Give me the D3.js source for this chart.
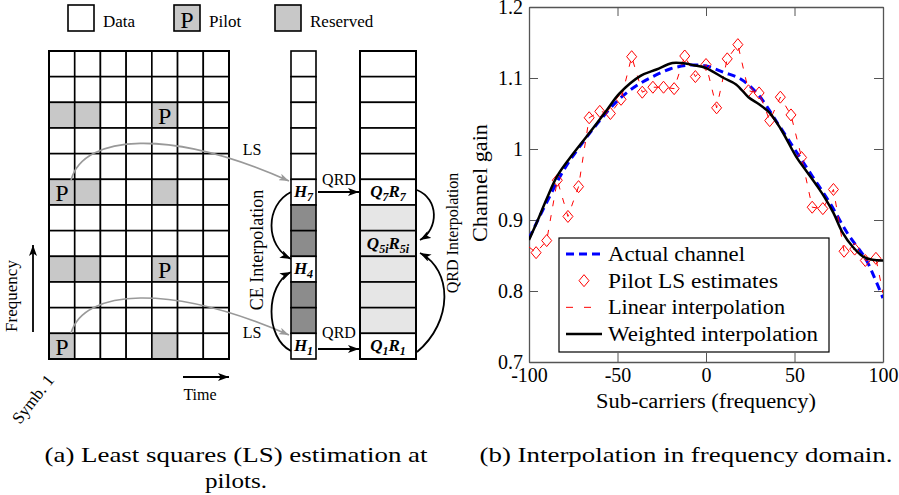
<!DOCTYPE html>
<html>
<head>
<meta charset="utf-8">
<script src="https://cdn.jsdelivr.net/npm/d3@7"></script>
<style>
body{margin:0;background:#fff}
</style>
</head>
<body>
<div id="app"></div>
<script>
// ---------- panel (a): resource grid ----------
var gridCols = 7, gridRows = 12
var pilotCells = [[2,4],[5,0],[8,4],[11,0]]              // [row, col]
var reservedCells = [[2,0],[2,1],[5,1],[5,4],[8,0],[8,1],[11,4]]
var hDarkRows = [6,7,9,10]
var hLabels = {5:[["H","7"]], 8:[["H","4"]], 11:[["H","1"]]}
var qGreyRows = [6,7,8,9,10]
var qLabels = {5:[["Q","7"],["R","7"]], 7:[["Q","5i"],["R","5i"]], 11:[["Q","1"],["R","1"]]}
var legendItems = ["Data","Pilot","Reserved"]

// ---------- panel (b): channel gain ----------
var actualX = [-100,-90,-80,-70,-60,-50,-40,-30,-20,-10,0,10,20,30,40,50,60,70,80,90,95,100]
var actualY = [0.874,0.925,0.972,1.008,1.040,1.068,1.088,1.102,1.113,1.118,1.117,1.108,1.098,1.075,1.038,1.000,0.962,0.924,0.881,0.846,0.820,0.790]

var pilotX = [-96,-90,-84,-78,-72,-66,-60,-54,-48,-42,-36,-30,-24,-18,-12,-6,0,6,12,18,24,30,36,42,48,54,60,66,72,78,84,90,96]
var pilotY = [0.854,0.871,0.956,0.905,0.947,1.044,1.053,1.050,1.070,1.130,1.080,1.087,1.087,1.085,1.131,1.102,1.119,1.058,1.127,1.147,1.082,1.079,1.040,1.073,1.048,0.988,0.918,0.916,0.943,0.856,0.859,0.843,0.846]
var linearEdgeX = [-100, 100]
var linearEdgeY = [0.862, 0.797]

var weightedX = [-100,-95,-90,-84,-77,-67,-56,-49,-37,-28,-19,-14,-7,0,10,17,24,30,36,43,51,57,63,67,72,77,83,89,94,100]
var weightedY = [0.872,0.900,0.930,0.962,0.987,1.019,1.055,1.078,1.103,1.112,1.121,1.121,1.118,1.114,1.100,1.091,1.073,1.063,1.051,1.025,0.989,0.968,0.947,0.932,0.910,0.883,0.862,0.848,0.844,0.843]

var xTicks = [-100,-50,0,50,100]
var yTicks = [0.7,0.8,0.9,1,1.1,1.2]
var seriesNames = ["Actual channel","Pilot LS estimates","Linear interpolation","Weighted interpolation"]

var serif = '"Liberation Serif","Times New Roman",serif'

var svg = d3.select("#app").append("svg").attr("width",899).attr("height",495)
svg.append("rect").attr("width",899).attr("height",495).attr("fill","#fff")

var defs = svg.append("defs")
function marker(id,colour,len,wid){
  defs.append("marker").attr("id",id).attr("markerUnits","userSpaceOnUse")
    .attr("viewBox","0 0 "+len+" "+wid).attr("markerWidth",len).attr("markerHeight",wid)
    .attr("refX",len).attr("refY",wid/2).attr("orient","auto")
    .append("path").attr("d","M0,0 L"+len+","+wid/2+" L0,"+wid+" L"+(len*0.25)+","+wid/2+" Z").attr("fill",colour)
}
marker("headBlack","#000",11,8)
marker("headGrey","#999",10,7)

// ---- grid
var gx = d3.scaleLinear().domain([0,gridCols]).range([49,229])
var gy = d3.scaleLinear().domain([0,gridRows]).range([51,359])
var cw = gx(1)-gx(0), ch = gy(1)-gy(0)

var cells = []
d3.range(gridRows).forEach(r=>d3.range(gridCols).forEach(c=>{
  var pilot = pilotCells.some(p=>p[0]==r&&p[1]==c)
  var res = reservedCells.some(p=>p[0]==r&&p[1]==c)
  cells.push({r:r,c:c,pilot:pilot,grey:pilot||res})
}))

var grid = svg.append("g")
grid.selectAll("rect").data(cells).enter().append("rect")
  .attr("x",d=>gx(d.c)).attr("y",d=>gy(d.r)).attr("width",cw).attr("height",ch)
  .attr("fill",d=>d.grey?"#c8c8c8":"#fff").attr("stroke","#000").attr("stroke-width",1.6)
grid.selectAll("text").data(cells.filter(d=>d.pilot)).enter().append("text")
  .attr("x",d=>gx(d.c)+cw/2).attr("y",d=>gy(d.r+1)-4).attr("text-anchor","middle")
  .style("font-size","24px").text("P")
grid.append("rect").attr("x",gx(0)).attr("y",gy(0)).attr("width",gx(gridCols)-gx(0)).attr("height",gy(gridRows)-gy(0))
  .attr("fill","none").attr("stroke","#000").attr("stroke-width",2)

// ---- legend of panel (a)
var legX = [68,174,275]
var leg = svg.append("g")
legendItems.forEach((name,i)=>{
  leg.append("rect").attr("x",legX[i]).attr("y",5).attr("width",26).attr("height",26)
    .attr("fill",i==0?"#fff":"#c8c8c8").attr("stroke","#000").attr("stroke-width",1.6)
  if (i==1) leg.append("text").attr("x",legX[i]+13).attr("y",28).attr("text-anchor","middle").style("font-size","24px").text("P")
  leg.append("text").attr("x",legX[i]+35).attr("y",27).style("font-size","17px").text(name)
})

// ---- helper for bold italic labels with subscripts
function subLabel(g,x,y,parts){
  var t = g.append("text").attr("x",x).attr("y",y).attr("text-anchor","middle")
    .style("font-size","17px").style("font-weight","bold").style("font-style","italic")
  parts.forEach((p,i)=>{
    t.append("tspan").attr("dy",i==0?0:-4).text(p[0])
    t.append("tspan").attr("dy",4).style("font-size","12px").text(p[1])
  })
}

// ---- H column
var hx = 291, hw = 25
var hcol = svg.append("g")
d3.range(gridRows).forEach(r=>{
  hcol.append("rect").attr("x",hx).attr("y",gy(r)).attr("width",hw).attr("height",ch)
    .attr("fill",hDarkRows.indexOf(r)>=0?"#8c8c8c":"#fff").attr("stroke","#000").attr("stroke-width",1.6)
  if (hLabels[r]) subLabel(hcol,hx+hw/2,gy(r)+ch/2+5,hLabels[r])
})

// ---- Q column
var qx = 360, qw = 56
var qcol = svg.append("g")
d3.range(gridRows).forEach(r=>{
  qcol.append("rect").attr("x",qx).attr("y",gy(r)).attr("width",qw).attr("height",ch)
    .attr("fill",qGreyRows.indexOf(r)>=0?"#e6e6e6":"#fff").attr("stroke","#000").attr("stroke-width",1.6)
  if (qLabels[r]) subLabel(qcol,qx+qw/2,gy(r)+ch/2+5,qLabels[r])
})
qcol.append("rect").attr("x",qx).attr("y",gy(0)).attr("width",qw).attr("height",gy(gridRows)-gy(0))
  .attr("fill","none").attr("stroke","#000").attr("stroke-width",2)

// ---- arrows panel (a)
var arrows = svg.append("g").attr("fill","none")
arrows.append("path").attr("d","M71,180 C84,134 170,128 289,181")
  .attr("stroke","#999").attr("stroke-width",1.6).attr("marker-end","url(#headGrey)")
arrows.append("path").attr("d","M71,333 C84,289 170,283 289,335")
  .attr("stroke","#999").attr("stroke-width",1.6).attr("marker-end","url(#headGrey)")
var blackArrows = ["M318,192 L359,192","M318,349 L359,349",
  "M291,192 C265,205 265,246 291,259","M291,351 C265,338 265,285 291,272",
  "M417,190 C439,199 439,229 420,240","M417,352 C453,322 453,270 420,253",
  "M183,377 L229,377","M33,332 L33,245"]
blackArrows.forEach(d=>arrows.append("path").attr("d",d).attr("stroke","#000").attr("stroke-width",1.8).attr("marker-end","url(#headBlack)"))

var lab = svg.append("g").style("font-size","16px")
lab.append("text").attr("x",252).attr("y",155).attr("text-anchor","middle").text("LS")
lab.append("text").attr("x",252).attr("y",338).attr("text-anchor","middle").text("LS")
lab.append("text").attr("x",339).attr("y",185).attr("text-anchor","middle").text("QRD")
lab.append("text").attr("x",339).attr("y",338).attr("text-anchor","middle").text("QRD")
lab.append("text").attr("transform","translate(263,250) rotate(-90)").attr("text-anchor","middle").style("font-size","18px").text("CE Interpolation")
lab.append("text").attr("transform","translate(458,233) rotate(-90)").attr("text-anchor","middle").style("font-size","16px").text("QRD Interpolation")
lab.append("text").attr("transform","translate(17,296) rotate(-90)").attr("text-anchor","middle").style("font-size","17px").text("Frequency")
lab.append("text").attr("x",200).attr("y",400).attr("text-anchor","middle").text("Time")
lab.append("text").attr("transform","translate(20,425) rotate(-52)").style("font-size","17px").text("Symb. 1")

// ---------- panel (b) ----------
var x = d3.scaleLinear().domain([-100,100]).range([529,883])
var y = d3.scaleLinear().domain([0.7,1.2]).range([362,7])
var plot = svg.append("g")
plot.append("clipPath").attr("id","clip").append("rect")
  .attr("x",x(-100)).attr("y",y(1.2)).attr("width",x(100)-x(-100)).attr("height",y(0.7)-y(1.2))

var tk = 9, axCol = "#555"
function styleAxis(g){
  g.select(".domain").attr("stroke",axCol).attr("stroke-width",1.3)
  g.selectAll(".tick line").attr("stroke",axCol).attr("stroke-width",1)
  g.selectAll(".tick text").style("font-size","20px").attr("fill","#000")
}
plot.append("g").attr("transform","translate(0,"+y(0.7)+")")
  .call(d3.axisBottom(x).tickValues(xTicks).tickSize(-tk).tickSizeOuter(0).tickPadding(6).tickFormat(d=>String(d))).call(styleAxis)
plot.append("g").attr("transform","translate(0,"+y(1.2)+")")
  .call(d3.axisTop(x).tickValues(xTicks).tickSize(-tk).tickSizeOuter(0).tickFormat("")).call(styleAxis)
plot.append("g").attr("transform","translate("+x(-100)+",0)")
  .call(d3.axisLeft(y).tickValues(yTicks).tickSize(-tk).tickSizeOuter(0).tickPadding(6).tickFormat(d=>String(d))).call(styleAxis)
plot.append("g").attr("transform","translate("+x(100)+",0)")
  .call(d3.axisRight(y).tickValues(yTicks).tickSize(-tk).tickSizeOuter(0).tickFormat("")).call(styleAxis)

var lines = plot.append("g").attr("clip-path","url(#clip)").attr("fill","none")
var smooth = d3.line().x(d=>x(d[0])).y(d=>y(d[1])).curve(d3.curveCatmullRom.alpha(0.5))
var straight = d3.line().x(d=>x(d[0])).y(d=>y(d[1]))

var actual = actualX.map((v,i)=>[v,actualY[i]])
var pilots = pilotX.map((v,i)=>[v,pilotY[i]])
var linear = [[linearEdgeX[0],linearEdgeY[0]]].concat(pilots,[[linearEdgeX[1],linearEdgeY[1]]])
var weighted = weightedX.map((v,i)=>[v,weightedY[i]])

var dia = "M0,-6 L5,0 L0,6 L-5,0 Z"
lines.append("path").datum(actual).attr("d",smooth).attr("stroke","#0000ff").attr("stroke-width",3).attr("stroke-dasharray","8,5")
lines.selectAll(".pilot").data(pilots).enter().append("path").attr("class","pilot")
  .attr("d",dia).attr("transform",d=>"translate("+x(d[0])+","+y(d[1])+")").attr("stroke","#ff0000").attr("stroke-width",1)
lines.append("path").datum(linear).attr("d",straight).attr("stroke","#ff0000").attr("stroke-width",1).attr("stroke-dasharray","6,9")
lines.append("path").datum(weighted).attr("d",smooth).attr("stroke","#000").attr("stroke-width",2.5)

plot.append("text").attr("transform","translate(487,183) rotate(-90)").attr("text-anchor","middle").style("font-size","20px")
  .attr("textLength",118).attr("lengthAdjust","spacingAndGlyphs").text("Channel gain")
plot.append("text").attr("x",706).attr("y",408).attr("text-anchor","middle").style("font-size","20px")
  .attr("textLength",220).attr("lengthAdjust","spacingAndGlyphs").text("Sub-carriers (frequency)")

// legend
var lg = plot.append("g")
lg.append("rect").attr("x",559).attr("y",238).attr("width",270).attr("height",114).attr("fill","#fff").attr("stroke","#000").attr("stroke-width",1.2)
var legY = d3.scaleLinear().domain([0,3]).range([254,334])
var legLen = [137,170,177,210]
seriesNames.forEach((name,i)=>{
  var yy = legY(i)
  if (i==0) lg.append("line").attr("x1",566).attr("x2",602).attr("y1",yy).attr("y2",yy).attr("stroke","#0000ff").attr("stroke-width",3).attr("stroke-dasharray","8,5")
  if (i==1) lg.append("path").attr("d",dia).attr("transform","translate(584,"+yy+")").attr("fill","none").attr("stroke","#ff0000")
  if (i==2) lg.append("line").attr("x1",566).attr("x2",602).attr("y1",yy).attr("y2",yy).attr("stroke","#ff0000").attr("stroke-width",1).attr("stroke-dasharray","7,11")
  if (i==3) lg.append("line").attr("x1",566).attr("x2",602).attr("y1",yy).attr("y2",yy).attr("stroke","#000").attr("stroke-width",2.5)
  lg.append("text").attr("x",608).attr("y",yy+7).style("font-size","20px")
    .attr("textLength",legLen[i]).attr("lengthAdjust","spacingAndGlyphs").text(name)
})

// captions
var cap = svg.append("g").style("font-size","22px").attr("text-anchor","middle")
cap.append("text").attr("x",236).attr("y",462).attr("textLength",383).attr("lengthAdjust","spacingAndGlyphs").text("(a) Least squares (LS) estimation at")
cap.append("text").attr("x",236).attr("y",488).attr("textLength",62).attr("lengthAdjust","spacingAndGlyphs").text("pilots.")
cap.append("text").attr("x",686).attr("y",462).attr("textLength",413).attr("lengthAdjust","spacingAndGlyphs").text("(b) Interpolation in frequency domain.")

svg.selectAll("text").style("font-family",serif).attr("fill","#000")
</script>
</body>
</html>
